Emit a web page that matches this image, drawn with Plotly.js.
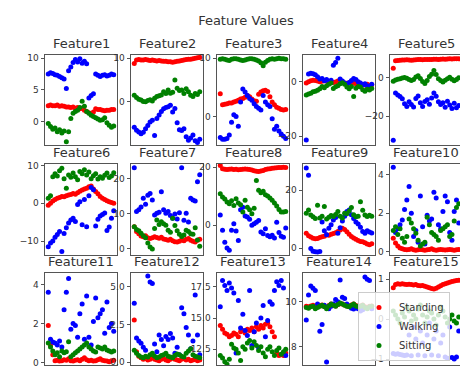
<!DOCTYPE html>
<html><head><meta charset="utf-8">
<script src="https://cdn.plot.ly/plotly-3.0.1.min.js"></script>
<style>html,body{margin:0;padding:0;background:#fff}#chart{width:460px;height:368px}</style>
</head><body><div id="chart"></div>
<script>
const chartTitle = 'Feature Values';
const featureNames = ['Feature1','Feature2','Feature3','Feature4','Feature5','Feature6','Feature7','Feature8','Feature9','Feature10','Feature11','Feature12','Feature13','Feature14','Feature15'];
const classNames = ['Standing','Walking','Sitting'];
const sampleIndex = [0,1,2,3,4,5,6,7,8,9,10,11,12,13,14,15,16,17,18,19,20,21,22,23,24,25,26,27,28,29];

// Feature1
const f1Standing = [2.5,2.6,2.5,2.5,2.6,2.4,2.5,2.4,2.3,2.3,2.2,2.3,2.1,2.2,2.0,2.1,1.8,1.6,1.4,1.2,1.5,2.0,1.9,1.9,1.8,1.7,1.8,1.8,1.9,1.9];
const f1Walking  = [7.5,7.7,7.6,7.4,7.3,7.1,6.9,6.7,5.2,8.0,8.6,9.3,9.8,9.4,9.9,9.2,9.5,9.1,3.7,4.1,4.4,7.5,7.3,7.1,7.3,7.4,7.2,7.3,7.5,7.4];
const f1Sitting  = [-0.3,-0.8,-1.2,-1.0,-1.6,-1.3,-1.8,-1.5,-3.2,-1.6,0.5,1.3,1.6,1.8,2.2,3.2,2.4,1.6,1.3,1.0,0.8,0.6,0.4,0.2,0.3,0.6,-0.2,-0.6,-0.9,-0.7];
// Feature2
const f2Standing = [8.8,9.6,9.7,9.6,9.6,9.7,9.6,9.5,9.6,9.5,9.4,9.5,9.4,9.3,9.3,9.2,9.2,9.1,9.2,9.3,9.4,9.5,9.6,9.7,9.8,9.8,9.9,10.0,10.1,10.2];
const f2Walking  = [-5.8,-6.5,-6.9,-7.3,-7.0,-6.2,-5.4,-4.6,-4.2,-7.7,-3.8,-3.0,-2.2,-1.6,-1.3,-1.1,-0.8,-2.3,-1.5,-4.8,-6.4,-6.6,-6.2,-8.0,-8.8,-8.3,-7.6,-8.9,-9.3,-8.6];
const f2Sitting  = [1.5,1.0,0.6,0.4,0.1,0.0,0.3,0.5,0.2,0.8,1.2,1.4,1.6,2.3,1.9,2.7,2.0,2.2,5.0,3.1,2.6,2.7,1.9,3.0,2.3,1.5,1.2,1.9,1.7,2.3];
// Feature3
const f3Standing = [3.9,2.0,2.1,2.2,2.3,2.3,2.5,2.6,2.8,3.0,3.1,3.3,3.6,3.4,3.0,2.7,2.6,3.8,4.2,4.4,4.5,4.3,3.4,2.5,2.0,1.6,1.4,1.2,1.1,1.2];
const f3Walking  = [-3.6,-3.9,-3.9,-3.8,-3.2,-1.0,0.3,0.0,-1.7,2.5,4.7,4.2,3.6,3.1,2.8,2.2,1.7,1.4,1.1,3.6,2.5,2.0,1.7,-0.4,-2.2,-1.7,-2.5,-3.0,-3.4,-3.8];
const f3Sitting  = [9.8,9.9,9.8,9.7,9.6,9.8,9.9,9.9,9.8,9.7,9.6,9.7,9.8,9.9,9.9,9.8,9.7,9.5,9.2,8.7,9.3,9.6,9.8,9.9,9.8,9.9,10.0,9.9,9.9,9.8];
// Feature4
const f4Standing = [-0.5,0.0,0.3,0.5,0.4,0.2,0.0,0.1,0.3,0.2,-0.2,-0.4,-0.3,-0.1,0.2,0.1,-0.3,-0.5,-0.6,-0.4,-0.2,-0.5,-0.8,-1.0,-0.9,-1.1,-1.2,-1.0,-1.3,-1.1];
const f4Walking  = [-21.5,2.8,3.1,2.9,2.5,1.8,1.0,1.2,0.3,0.8,-0.2,0.5,6.0,7.0,8.6,1.0,0.2,-0.5,-1.0,-0.3,0.4,1.2,0.8,0.0,-0.5,-1.2,-0.8,-1.5,-1.8,-1.0];
const f4Sitting  = [-4.9,-4.5,-4.3,-3.7,-3.5,-3.2,-2.6,-1.8,-2.2,-1.5,-1.0,-0.5,-2.5,-1.9,-1.5,-0.8,-0.4,-1.0,-2.0,-2.6,-1.8,-5.5,-2.4,-1.8,-2.0,-3.0,-3.5,-2.8,-3.1,-2.5];
// Feature5
const f5Standing = [4.9,8.8,9.0,9.1,9.2,9.2,9.3,9.2,9.1,9.2,9.3,9.4,9.4,9.3,9.4,9.5,9.4,9.5,9.6,9.6,9.5,9.6,9.7,9.6,9.7,9.8,9.7,9.8,9.9,9.8];
const f5Walking  = [-32.5,-8.0,-9.0,-9.8,-11.0,-13.5,-15.0,-12.5,-14.0,-15.2,-10.8,-9.5,-13.0,-15.0,-12.4,-11.5,-13.8,-10.5,-8.0,-9.6,-12.5,-14.0,-13.0,-15.4,-12.3,-14.2,-16.0,-13.3,-15.6,-14.5];
const f5Sitting  = [-1.8,-1.2,-0.8,-0.6,-0.2,0.1,-0.3,-0.9,-1.5,-1.0,0.4,1.0,-0.4,-2.0,-3.0,-1.5,0.6,1.8,3.8,1.6,-0.5,-1.5,-2.2,-1.3,-0.6,0.2,-0.8,-1.6,-1.0,0.0];
// Feature6
const f6Standing = [-0.5,0.0,0.6,1.0,1.3,1.5,1.8,1.7,2.0,2.2,2.3,2.6,2.4,2.8,3.2,3.5,3.8,4.0,4.4,4.6,3.8,3.1,2.5,1.8,1.3,1.0,0.7,0.4,0.2,0.0];
const f6Walking  = [-11.5,-10.5,-10.0,-9.0,-8.3,-7.5,-12.8,-8.0,-6.5,-5.2,-4.4,-4.0,-4.8,-0.3,0.4,-5.7,1.0,-6.2,2.0,4.2,3.6,-6.0,-4.2,-3.4,-3.0,-2.6,-7.2,-6.3,-4.0,-2.0];
const f6Sitting  = [1.3,2.0,7.0,7.8,7.2,8.6,9.3,6.5,4.0,7.5,6.9,8.0,7.0,6.2,8.4,7.8,8.9,7.5,8.3,6.5,7.3,7.8,6.4,7.0,6.6,7.4,8.0,6.8,7.2,8.1];
// Feature7
const f7Standing = [6.2,4.8,4.2,3.5,3.3,3.6,3.0,2.8,3.0,3.3,3.1,2.9,3.2,2.7,2.5,2.3,2.6,2.2,1.9,1.8,2.0,2.4,2.2,2.6,2.8,2.3,2.0,1.8,2.3,2.6];
const f7Walking  = [23.0,10.5,11.0,11.8,14.3,12.6,15.2,15.7,13.8,9.5,10.0,10.3,16.2,11.0,10.0,10.5,9.4,8.6,9.8,8.4,10.2,23.0,8.0,10.0,7.5,14.3,13.8,13.5,19.0,21.0];
const f7Sitting  = [6.2,5.4,5.0,4.3,3.6,3.0,1.5,0.4,-0.2,5.7,8.1,6.8,7.6,7.0,6.6,5.2,4.6,8.6,6.5,5.0,4.0,3.4,3.8,5.2,4.8,4.2,4.0,5.9,2.4,0.6];
// Feature8
const f8Standing = [20.6,19.5,19.3,19.2,19.3,19.4,19.2,19.3,19.1,19.2,19.3,19.4,19.3,19.2,19.0,18.8,18.6,18.5,18.7,18.9,19.2,19.4,19.5,19.6,19.7,19.8,19.9,19.9,20.0,19.9];
const f8Walking  = [3.5,-1.8,-5.9,-7.9,-8.7,-1.8,0.5,-2.0,-5.3,5.3,6.2,3.2,2.8,2.0,0.0,0.5,1.0,1.6,-2.4,-3.0,-1.2,-3.6,-4.0,-3.5,-4.4,1.0,-2.5,-3.8,-4.2,-1.0];
const f8Sitting  = [10.8,9.7,9.0,8.0,7.4,8.4,6.8,9.1,7.6,7.0,4.5,8.6,6.2,5.3,3.9,5.8,15.4,12.0,11.2,11.7,10.5,10.1,9.4,8.6,7.6,6.6,5.4,4.5,4.5,4.7];
// Feature9
const f9Standing = [5.1,4.2,3.8,3.4,3.2,3.3,3.6,3.9,4.1,4.6,4.4,4.8,5.0,5.3,5.7,6.2,6.8,6.4,5.6,4.8,4.0,3.5,3.0,2.6,2.3,2.2,1.8,1.4,1.1,1.5];
const f9Walking  = [27.6,25.1,-0.2,-1.1,-1.3,-1.4,-1.2,9.0,6.0,4.6,6.8,8.0,9.7,10.5,5.1,7.0,9.3,11.0,12.6,13.1,11.5,10.2,9.0,8.3,7.2,5.7,5.1,6.0,5.5,5.2];
const f9Sitting  = [12.0,13.1,11.4,10.8,10.2,14.8,10.4,11.0,14.3,10.0,10.6,11.2,10.9,11.6,12.6,11.0,10.4,12.0,11.8,12.8,14.0,11.5,10.8,11.0,16.0,13.0,11.4,10.9,11.3,11.0];
// Feature10
const f10Standing = [0.7,0.45,0.3,0.2,0.15,0.12,0.1,0.12,0.15,0.1,0.08,0.1,0.12,0.1,0.08,0.1,0.12,0.15,0.1,0.08,0.1,0.12,0.1,0.09,0.1,0.12,0.1,0.08,0.1,0.12];
const f10Walking  = [4.4,1.0,1.2,1.4,1.65,2.2,2.7,3.4,2.0,0.8,1.1,0.5,2.9,1.3,0.4,1.9,1.6,1.7,3.1,2.8,1.4,1.2,2.1,2.9,2.6,1.0,0.6,2.1,2.7,1.5];
const f10Sitting  = [1.1,1.3,0.9,1.2,0.7,0.5,0.8,1.7,1.5,1.2,0.96,0.6,0.3,0.4,0.5,1.8,1.4,1.0,0.9,0.8,0.6,1.1,1.2,1.3,1.4,0.8,0.9,1.6,2.3,2.5];
// Feature11
const f11Standing = [1.9,0.9,0.4,0.1,0.12,0.08,0.1,0.15,0.12,0.2,0.1,0.08,0.12,0.15,0.1,0.18,0.25,0.15,0.1,0.12,0.08,0.1,0.15,0.2,0.12,0.1,0.08,0.05,0.1,0.12];
const f11Walking  = [3.6,1.2,1.05,1.0,0.9,1.1,0.8,2.7,3.6,4.3,1.7,2.0,1.9,1.3,2.5,3.0,1.2,3.4,1.3,0.9,2.1,3.3,2.3,2.5,2.7,1.5,3.1,1.8,2.0,1.6];
const f11Sitting  = [1.0,0.8,0.6,0.4,0.5,0.3,0.6,0.5,0.56,1.07,0.3,0.4,0.5,0.6,0.7,0.8,0.9,1.0,0.8,0.7,0.6,0.55,0.8,0.75,0.7,0.8,0.65,0.6,0.55,0.6];
// Feature12
const f12Standing = [2.8,0.7,0.4,0.3,0.2,0.25,0.15,0.2,0.3,0.2,0.15,0.1,0.2,0.25,0.15,0.1,0.2,0.3,0.2,0.15,0.1,0.2,0.25,0.15,0.2,0.1,0.15,0.2,0.1,0.15];
const f12Walking  = [3.9,1.6,1.4,1.25,1.0,0.8,5.7,5.3,5.2,1.2,0.7,1.8,1.5,1.1,1.7,1.5,1.9,1.6,0.6,1.0,0.5,3.6,3.2,2.3,1.8,0.9,1.4,4.45,1.8,0.5];
const f12Sitting  = [0.8,0.6,0.45,0.35,0.3,0.4,0.35,0.5,0.6,0.4,0.3,0.35,0.45,0.5,0.6,0.4,0.35,0.3,0.45,0.55,0.5,0.4,0.35,0.6,0.75,0.9,0.5,0.4,0.35,0.3];
// Feature13
const f13Standing = [14.4,14.1,13.8,13.7,13.5,13.6,13.8,13.7,13.5,13.9,14.0,13.8,14.1,14.0,14.2,13.9,14.3,14.1,14.4,14.2,14.5,14.6,14.3,13.9,13.5,12.2,12.0,12.1,12.0,12.2];
const f13Walking  = [15.9,18.0,17.6,17.2,17.8,17.4,17.0,12.2,16.4,14.2,15.3,14.0,13.6,17.2,12.8,13.9,14.6,12.6,15.0,16.0,13.5,14.8,16.3,16.1,17.2,17.9,17.6,18.0,17.4,12.0];
const f13Sitting  = [12.0,11.8,11.5,11.3,11.7,12.9,12.6,12.5,12.2,11.6,12.7,12.5,13.0,13.2,12.6,13.1,12.8,12.4,12.7,12.2,11.9,12.5,12.7,12.3,12.0,12.4,12.6,12.1,12.3,12.5];
// Feature14
const f14Standing = [9.8,9.78,9.82,9.85,9.8,9.78,9.82,9.86,9.8,9.76,9.84,9.9,9.86,9.82,9.88,9.92,9.9,9.86,9.82,9.8,9.86,9.9,9.84,9.8,9.82,9.86,9.78,9.75,9.8,9.82];
const f14Walking  = [9.2,10.3,10.7,10.6,10.5,9.9,8.7,9.0,9.85,7.33,9.7,9.8,9.9,10.1,10.0,10.97,10.2,10.15,9.9,9.8,9.72,9.68,9.75,9.7,9.6,9.65,11.1,11.0,10.95,9.7];
const f14Sitting  = [9.75,9.72,9.78,9.8,9.7,9.75,9.8,9.85,9.78,9.7,9.82,9.9,9.85,9.8,9.88,9.95,9.9,9.85,9.8,9.78,9.85,9.9,9.82,9.78,9.8,9.85,9.75,9.7,9.78,9.8];
// Feature15
const f15Standing = [0.78,0.86,0.88,0.87,0.88,0.87,0.86,0.87,0.86,0.85,0.86,0.84,0.83,0.84,0.82,0.80,0.78,0.76,0.75,0.77,0.80,0.83,0.86,0.88,0.90,0.92,0.94,0.95,0.96,0.97];
const f15Walking  = [-0.86,-0.88,-0.87,-0.89,-0.9,-0.91,-0.9,-0.4,-0.92,-0.2,-0.5,-0.9,-0.3,-0.6,-0.92,-0.4,-0.1,-0.9,-0.5,-0.3,-0.92,-0.6,-0.4,-0.95,-0.98,-0.2,-0.96,-1.0,-0.95,-0.3];
const f15Sitting  = [0.2,0.1,0.0,-0.1,0.15,0.05,0.3,0.2,-0.05,0.1,0.0,0.25,0.35,0.1,-0.1,0.05,0.2,0.15,0.0,-0.15,0.1,0.3,0.2,0.05,-0.1,0.0,0.1,-0.05,-0.1,0.05];

const featureData = [
  [f1Standing,f1Walking,f1Sitting],[f2Standing,f2Walking,f2Sitting],[f3Standing,f3Walking,f3Sitting],
  [f4Standing,f4Walking,f4Sitting],[f5Standing,f5Walking,f5Sitting],[f6Standing,f6Walking,f6Sitting],
  [f7Standing,f7Walking,f7Sitting],[f8Standing,f8Walking,f8Sitting],[f9Standing,f9Walking,f9Sitting],
  [f10Standing,f10Walking,f10Sitting],[f11Standing,f11Walking,f11Sitting],[f12Standing,f12Walking,f12Sitting],
  [f13Standing,f13Walking,f13Sitting],[f14Standing,f14Walking,f14Sitting],[f15Standing,f15Walking,f15Sitting]
];

// styling / layout (not data)
const classColors = ['#ff0000','#0000ff','#008000'];
const yRanges = [[-3.7,10.5],[-9.9,10.75],[-4.9,10.55],[-23.3,9.8],[-35,11.8],
                 [-13.7,10.4],[-1.9,24.1],[-10.3,21.1],[-2.4,29],[-0.17,4.57],
                 [-0.12,4.58],[-0.18,5.9],[11.24,18.6],[7.2,11.28],[-1.15,1.15]];
const yTicks = [[0,5,10],[0,10],[0,10],[-20,0],[-20,0],
                [-10,0,10],[0,10,20],[0,20],[0,20],[0,2,4],
                [0,2,4],[0,2.5,5],[12.5,15,17.5],[8,10],[-1,0,1]];
const yTickText = [null,null,null,null,null,null,null,null,null,null,null,['0.0','2.5','5.0'],['12.5','15.0','17.5'],null,null];

const W = 460, H = 368;
const colLeft = [45,131,217,303,390];
const colW = 72;
const rowTop = [55,164,273];
const rowBot = [145,255,365];

const traces = [];
const layout = {
  width: W, height: H,
  margin: {l:0,r:0,t:0,b:0},
  paper_bgcolor: '#ffffff', plot_bgcolor: '#ffffff',
  font: {family: 'DejaVu Sans, sans-serif', size: 9, color: '#333'},
  showlegend: true,
  legend: {x: 358/W, y: 1-292/H, xanchor: 'left', yanchor: 'top',
           bgcolor: 'rgba(255,255,255,0.8)', bordercolor: '#cccccc', borderwidth: 1,
           font: {size: 10, color: '#333'}, itemwidth: 30, tracegroupgap: 0},
  title: {text: chartTitle, x: 246/W, y: 1-20/H, xanchor: 'center', yanchor: 'middle',
          font: {size: 13, color: '#333', family: 'DejaVu Sans, sans-serif'}},
  annotations: []
};

featureNames.forEach((name, k) => {
  const r = Math.floor(k/5), c = k%5;
  const sfx = k === 0 ? '' : String(k+1);
  const left = colLeft[c];
  const right = Math.min(left + colW, W);
  const xr = [-1.45, -1.45 + 31.9*(right-left)/colW];
  layout['xaxis'+sfx] = {
    domain: [left/W, right/W], anchor: 'y'+sfx, range: xr,
    showgrid: false, zeroline: false, showticklabels: false, ticks: '',
    showline: true, mirror: true, linecolor: '#555', linewidth: 1
  };
  const ya = {
    domain: [1-rowBot[r]/H, 1-rowTop[r]/H], anchor: 'x'+sfx, range: yRanges[k],
    showgrid: false, zeroline: false, tickvals: yTicks[k],
    ticks: 'outside', ticklen: 3.5, tickcolor: '#555', tickwidth: 1,
    showline: true, mirror: true, linecolor: '#555', linewidth: 1,
    tickfont: {size: 9, color: '#333'}
  };
  if (yTickText[k]) ya.ticktext = yTickText[k];
  layout['yaxis'+sfx] = ya;
  layout.annotations.push({
    text: name, xref: 'paper', yref: 'paper',
    x: (left + colW/2)/W, y: 1-(rowTop[r]-11.7)/H,
    xanchor: 'center', yanchor: 'middle', showarrow: false,
    font: {size: 13, color: '#333'}
  });
  featureData[k].forEach((vals, ci) => {
    traces.push({
      type: 'scatter', mode: 'markers', x: sampleIndex, y: vals,
      xaxis: 'x'+sfx, yaxis: 'y'+sfx,
      name: classNames[ci], legendgroup: classNames[ci],
      showlegend: k === 13,
      marker: {color: classColors[ci], size: 5},
      cliponaxis: true, hoverinfo: 'skip'
    });
  });
});

Plotly.newPlot('chart', traces, layout, {staticPlot: true, displayModeBar: false});
</script>
</body></html>
